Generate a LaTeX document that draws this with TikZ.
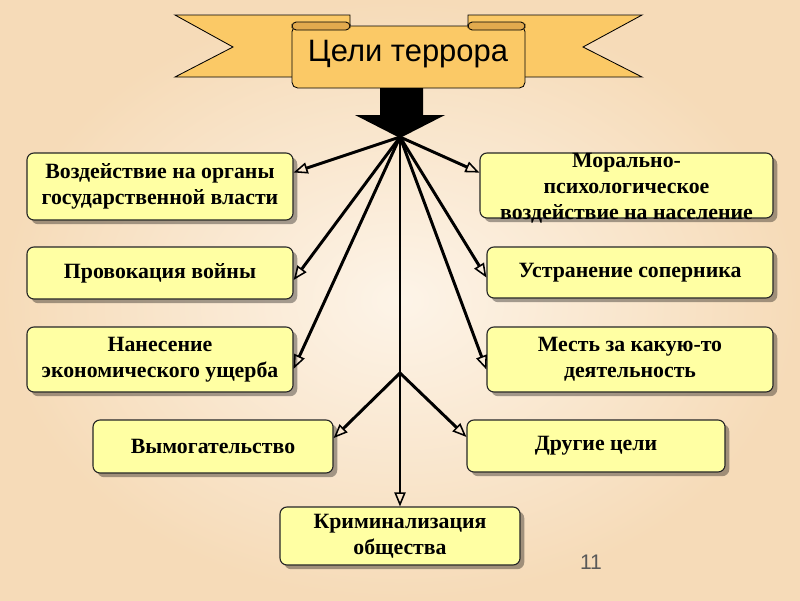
\documentclass[tikz,border=0pt]{standalone}
\usepackage{fontspec}
\setmainfont{Liberation Serif}
\newfontfamily\titlefont{Liberation Sans}
\usepackage{tikz}
\usetikzlibrary{arrows.meta,shadows}
\usepackage{xcolor}
\definecolor{bgin}{RGB}{253,244,232}
\definecolor{bgout}{RGB}{246,219,184}
\definecolor{ribbon}{RGB}{251,201,102}
\definecolor{ribbondark}{RGB}{226,170,78}
\definecolor{goalbox}{RGB}{255,255,163}

\begin{document}
\begin{tikzpicture}[x=0.025cm,y=-0.025cm,
  goal/.style={draw=black!85,line width=0.8pt,fill=goalbox,rounded corners=5pt,
    align=center,font=\fontsize{15.5}{18.5}\selectfont\bfseries,
    drop shadow={shadow xshift=3pt,shadow yshift=-3pt,opacity=0.35,fill=black}},
  link/.style={line width=2.1pt,-{Triangle[open,length=10pt,width=8pt,line width=1.1pt]}}]
% Background
\fill[inner color=bgin,outer color=bgout] (0,0) rectangle (800,600);
\useasboundingbox (0,0) rectangle (800,600);

% Ribbon banner
\draw[fill=ribbon,line width=0.6pt] (175,15) -- (350,15) -- (350,77) -- (175,77) -- (233,47) -- cycle;
\draw[fill=ribbon,line width=0.6pt] (642,15) -- (468,15) -- (468,77) -- (642,77) -- (583,47) -- cycle;
\draw[fill=ribbon,line width=0.6pt,rounded corners=4pt] (292,26) rectangle (525,88);
\draw[fill=ribbondark,line width=0.6pt,rounded corners=3pt] (292,22) rectangle (350,30);
\draw[fill=ribbondark,line width=0.6pt,rounded corners=3pt] (468,22) rectangle (525,30);
\node[font=\titlefont\fontsize{22}{26}\selectfont] (title) at (408,54) {Цели террора};

% Big arrow
\fill (380,88) -- (423,88) -- (423,115) -- (445,115) -- (400,138) -- (355,115) -- (380,115) -- cycle;
\coordinate (hub) at (400,137);
\coordinate (hub2) at (400,373);

% Goals on the left
\node[goal,minimum width=6.65cm,minimum height=1.675cm] (power) at (160,186.5) {Воздействие на органы\\государственной власти};
\node[goal,minimum width=6.65cm,minimum height=1.3cm] (war) at (160,273) {Провокация войны};
\node[goal,minimum width=6.65cm,minimum height=1.625cm] (damage) at (160,359.5) {Нанесение\\экономического ущерба};
\node[goal,minimum width=6cm,minimum height=1.325cm] (extort) at (213,446.5) {Вымогательство};

% Goals on the right
\node[goal,minimum width=7.325cm,minimum height=1.625cm] (moral) at (626.5,185.5) {};
\node[align=center,font=\fontsize{15.5}{18.5}\selectfont\bfseries] (moraltext) at (626.5,188) {Морально-\\психологическое\\воздействие на население};
\node[goal,minimum width=7.15cm,minimum height=1.275cm] (rival) at (630,272.5) {Устранение соперника};
\node[goal,minimum width=7.15cm,minimum height=1.625cm] (revenge) at (630,359.5) {Месть за какую-то\\деятельность};
\node[goal,minimum width=6.45cm,minimum height=1.3cm] (other) at (596,446) {Другие цели};

% Bottom goal
\node[goal,minimum width=6cm,minimum height=1.45cm] (crime) at (400,536) {Криминализация\\общества};

% Links
\draw[link] (hub) -- (power.6);
\draw[link] (hub) -- (war.-3);
\draw[link] (hub) -- (damage.-4.5);
\draw[link] (hub) -- (moral.175);
\draw[link] (hub) -- (rival.182);
\draw[link] (hub) -- (revenge.184);
\draw[link] (hub) -- (crime.north);
\draw[link] (hub2) -- (extort.4);
\draw[link] (hub2) -- (other.176.5);

\node[font=\titlefont\fontsize{15}{18}\selectfont,text=black!65] (page) at (591,562) {11};
\end{tikzpicture}
\end{document}
